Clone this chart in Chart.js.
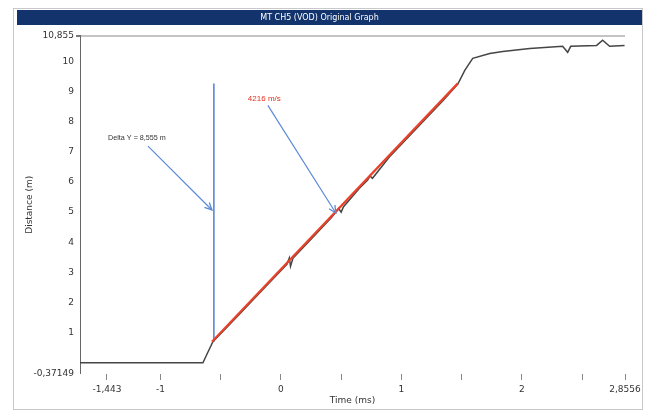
<!DOCTYPE html>
<html>
<head>
<meta charset="utf-8">
<script src="https://cdn.jsdelivr.net/npm/chart.js@4.4.0/dist/chart.umd.min.js"></script>
<style>
  body { margin: 0; background: #fff; }
  canvas { display: block; }
</style>
</head>
<body>
<canvas id="grafico" width="646" height="414"></canvas>
<script>
// Dados (tempo em ms, distância em m)
const tempo = [
  -1.667, -0.647, -0.605, -0.564, -0.45, -0.35, -0.25, -0.1, 0.05, 0.07, 0.08, 0.1,
  0.25, 0.42, 0.48, 0.5, 0.52, 0.65, 0.72, 0.74, 0.76, 0.9, 1.05, 1.2, 1.35,
  1.468, 1.484, 1.526, 1.592, 1.733, 1.841, 2.065, 2.338, 2.38, 2.405, 2.62,
  2.67, 2.728, 2.852
];
const distancia = [
  0, 0, 0.36, 0.70, 1.17, 1.59, 2.01, 2.64, 3.27, 3.48, 3.2, 3.47,
  4.10, 4.82, 5.12, 5.0, 5.18, 5.78, 6.06, 6.2, 6.12, 6.83, 7.46, 8.09, 8.72,
  9.25, 9.37, 9.70, 10.10, 10.26, 10.33, 10.43, 10.50, 10.30, 10.50, 10.53,
  10.70, 10.50, 10.53
];

// Reta ajustada (4216 m/s)
const ajusteTempo = [-0.572, 1.468];
const ajusteDist = [0.70, 9.27];

// Linha vertical azul (Delta Y)
const marcaTempo = [-0.556, -0.556];
const marcaDist = [0.70, 9.27];

// Setas das anotações
const setaDeltaTempo = [-1.103, -0.572];
const setaDeltaDist = [7.19, 5.07];
const setaVelTempo = [-0.108, 0.456];
const setaVelDist = [8.54, 4.97];

// Textos das anotações
const notaDelta = "Delta Y = 8,555 m";
const notaDeltaPos = [-1.434, 7.45];
const notaVel = "4216 m/s";
const notaVelPos = [-0.274, 8.77];

// Eixos
const xMin = -1.667, xMax = 2.8556;
const yMin = -0.37149, yMax = 10.855;
const xTicks = [-1.443, -1, -0.5, 0, 0.5, 1, 1.5, 2, 2.5, 2.8556];
const xTickLabels = ["-1,443", "-1", "", "0", "", "1", "", "2", "", "2,8556"];
const yTicks = [-0.37149, 0, 0.5, 1, 1.5, 2, 2.5, 3, 3.5, 4, 4.5, 5, 5.5, 6, 6.5,
  7, 7.5, 8, 8.5, 9, 9.5, 10, 10.5, 10.855];
const yTickLabels = ["-0,37149", "", "", "1", "", "2", "", "3", "", "4", "", "5", "",
  "6", "", "7", "", "8", "", "9", "", "10", "", "10,855"];

const titulo = "MT CH5 (VOD) Original Graph";

function pares(xs, ys) {
  return xs.map((x, i) => ({ x: x, y: ys[i] }));
}

// Moldura e barra do título
const moldura = {
  id: "moldura",
  beforeDraw(chart) {
    const c = chart.ctx;
    c.save();
    c.fillStyle = "#fff";
    c.fillRect(0, 0, chart.width, chart.height);
    c.strokeStyle = "#c8c8c8";
    c.lineWidth = 1;
    c.strokeRect(13.5, 8.5, 629, 401);
    c.fillStyle = "#12336b";
    c.fillRect(17, 10, 625, 15);
    c.restore();
  }
};

// Pontas das setas e textos
const anotacoes = {
  id: "anotacoes",
  afterDatasetsDraw(chart) {
    const c = chart.ctx;
    const sx = chart.scales.x, sy = chart.scales.y;
    c.save();
    [3, 4].forEach((i) => {
      const pts = chart.getDatasetMeta(i).data;
      const a = pts[0], b = pts[1];
      const ang = Math.atan2(b.y - a.y, b.x - a.x);
      c.strokeStyle = "#5b8ad8";
      c.lineWidth = 1.3;
      c.beginPath();
      c.moveTo(b.x - 8 * Math.cos(ang - 0.45), b.y - 8 * Math.sin(ang - 0.45));
      c.lineTo(b.x, b.y);
      c.lineTo(b.x - 8 * Math.cos(ang + 0.45), b.y - 8 * Math.sin(ang + 0.45));
      c.stroke();
    });
    c.font = "7.2px 'Liberation Sans', Arial, sans-serif";
    c.textBaseline = "middle";
    c.fillStyle = "#333";
    c.fillText(notaDelta, sx.getPixelForValue(notaDeltaPos[0]), sy.getPixelForValue(notaDeltaPos[1]));
    c.font = "8px 'Liberation Sans', Arial, sans-serif";
    c.fillStyle = "#e0301e";
    c.fillText(notaVel, sx.getPixelForValue(notaVelPos[0]), sy.getPixelForValue(notaVelPos[1]));
    c.restore();
  }
};

const config = {
  type: "scatter",
  data: {
    datasets: [
      {
        label: "Ajuste",
        data: pares(ajusteTempo, ajusteDist),
        showLine: true,
        borderColor: "#e8432a",
        borderWidth: 2.2,
        pointRadius: 0,
        order: 1
      },
      {
        label: "Distância",
        data: pares(tempo, distancia),
        showLine: true,
        borderColor: "#454545",
        borderWidth: 1.5,
        pointRadius: 0,
        tension: 0,
        order: 2
      },
      {
        label: "Marca",
        data: pares(marcaTempo, marcaDist),
        showLine: true,
        borderColor: "#4f7fd6",
        borderWidth: 1.5,
        pointRadius: 0,
        order: 3
      },
      {
        label: "Seta1",
        data: pares(setaDeltaTempo, setaDeltaDist),
        showLine: true,
        borderColor: "#5b8ad8",
        borderWidth: 1.2,
        pointRadius: 0,
        order: 4
      },
      {
        label: "Seta2",
        data: pares(setaVelTempo, setaVelDist),
        showLine: true,
        borderColor: "#5b8ad8",
        borderWidth: 1.2,
        pointRadius: 0,
        order: 5
      }
    ]
  },
  options: {
    responsive: false,
    animation: false,
    layout: { padding: { left: 14, right: 21, top: 10, bottom: 8 } },
    plugins: {
      legend: { display: false },
      tooltip: { enabled: false },
      title: {
        display: true,
        text: titulo,
        color: "#fff",
        font: { size: 8, weight: "normal", family: "'DejaVu Sans', sans-serif" },
        padding: { top: 3, bottom: 13 }
      }
    },
    scales: {
      x: {
        type: "linear",
        min: xMin,
        max: xMax,
        afterBuildTicks: (s) => { s.ticks = xTicks.map((v) => ({ value: v })); },
        afterFit: (s) => { s.height = 32; },
        border: { display: false },
        grid: { drawOnChartArea: false, tickLength: 6, tickColor: "#888" },
        ticks: {
          autoSkip: false,
          maxRotation: 0,
          padding: 4,
          color: "#333",
          font: { size: 9, family: "'DejaVu Sans', sans-serif" },
          callback: (v) => {
            const i = xTicks.indexOf(v);
            return i >= 0 ? xTickLabels[i] : "";
          }
        },
        title: {
          display: true,
          text: "Time (ms)",
          color: "#333",
          font: { size: 9, family: "'DejaVu Sans', sans-serif" },
          padding: { top: 0, bottom: 0 }
        }
      },
      y: {
        min: yMin,
        max: yMax,
        afterBuildTicks: (s) => { s.ticks = yTicks.map((v) => ({ value: v })); },
        afterFit: (s) => { s.width = 66; },
        border: { display: true, color: "#666", width: 1 },
        grid: {
          tickLength: 4,
          tickColor: "#777",
          lineWidth: (ctx) => (ctx.tick && ctx.tick.value === yMax ? 2 : 0),
          color: (ctx) => (ctx.tick && ctx.tick.value === yMax ? "#c4c4c4" : "rgba(0,0,0,0)")
        },
        ticks: {
          autoSkip: false,
          padding: 2,
          color: "#333",
          font: { size: 9, family: "'DejaVu Sans', sans-serif" },
          callback: (v) => {
            const i = yTicks.indexOf(v);
            return i >= 0 ? yTickLabels[i] : "";
          }
        },
        title: {
          display: true,
          text: "Distance (m)",
          color: "#333",
          font: { size: 9, family: "'DejaVu Sans', sans-serif" },
          padding: { top: 10, bottom: 0 }
        }
      }
    }
  },
  plugins: [moldura, anotacoes]
};

const ctx = document.getElementById("grafico").getContext("2d");
new Chart(ctx, config);
</script>
</body>
</html>
